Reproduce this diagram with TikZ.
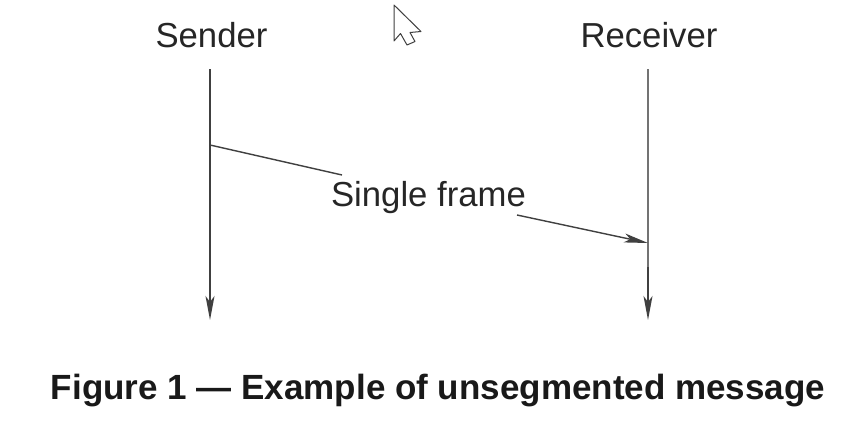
\documentclass[tikz,border=0pt]{standalone}
\usepackage{fontspec}
\setmainfont{Liberation Sans}
\usetikzlibrary{arrows.meta}
\tikzset{
 lbl/.style={inner sep=0pt,font=\fontsize{34.7pt}{40pt}\selectfont,text=black!85},
 figcap/.style={inner sep=0pt,font=\bfseries\fontsize{35pt}{40pt}\selectfont,text=black!90},
 life/.style={draw=black!55,line width=1.5pt},
 lifetip/.style={draw=black!75,line width=1.5pt,-{Stealth[length=24pt,width=9pt,inset=6pt]}},
 msg/.style={draw=black!75,line width=1.4pt},
}
\begin{document}
\begin{tikzpicture}[x=1pt,y=-1pt,every node/.append style={anchor=center}]
\useasboundingbox (0,0) rectangle (865,439);
\fill[white] (0,0) rectangle (865,439);
\node[lbl] (sender) at (211.5,35.5) {Sender};
\node[lbl] (receiver) at (649,35.5) {Receiver};
\coordinate (s0) at (210,69);
\coordinate (s1) at (210,320);
\coordinate (r0) at (648,69);
\coordinate (r1) at (648,320);
\coordinate (rm) at (648,267);
\coordinate (m0) at (210,145);
\coordinate (m1) at (648,243);
\coordinate (ma) at (342,175);
\coordinate (mb) at (517,215);
\node[lbl] (frame) at (428.5,198) {Single frame};
\node[figcap] (caption) at (438,391) {Figure 1 — Example of unsegmented message};
\draw[lifetip] (s0) -- (s1);
\draw[life] (r0) -- (rm);
\draw[lifetip] (rm) -- (r1);
\draw[msg] (m0) -- (ma);
\draw[msg,-{Stealth[length=24pt,width=9pt,inset=6pt]}] (mb) -- (m1);
\draw[draw=black!75,fill=white,line width=1pt,line join=round]
 (394,5) -- (394,41) -- (400.5,33.5) -- (407,45) -- (415,41.5) -- (410,32.5) -- (421,31.5) -- cycle;
\end{tikzpicture}
\end{document}
